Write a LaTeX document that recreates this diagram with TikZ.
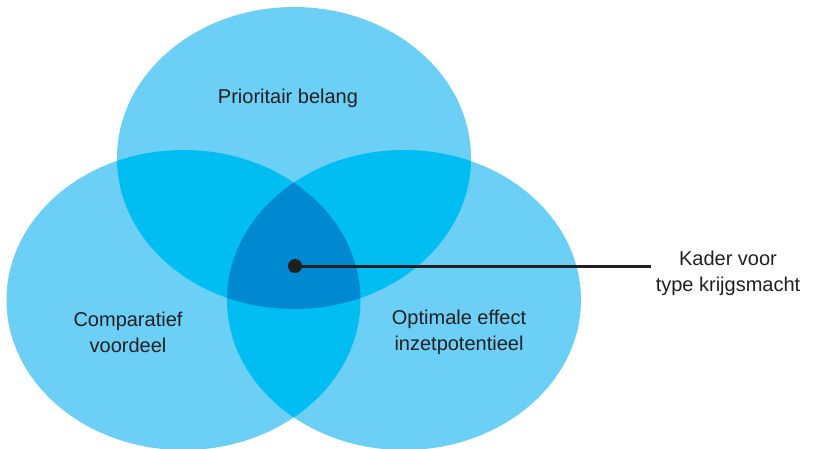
\documentclass[tikz,border=0pt]{standalone}
\usepackage{fontspec}
\setmainfont{Liberation Sans}
\definecolor{lightblue}{HTML}{6BCFF6}
\definecolor{midblue}{HTML}{00BDF2}
\definecolor{darkblue}{HTML}{0089D0}
\definecolor{txt}{HTML}{231F20}
\tikzset{
  lbl/.style={text=txt, font=\fontsize{20}{26}\selectfont, align=center},
}
\begin{document}
\begin{tikzpicture}[x=1pt,y=-1pt]
\useasboundingbox (0,0) rectangle (813,448);
\def\topE{(294,158) ellipse [x radius=177pt, y radius=151pt]}
\def\leftE{(183.5,300) ellipse [x radius=177pt, y radius=150pt]}
\def\rightE{(404,300) ellipse [x radius=177pt, y radius=150pt]}
\begin{scope}
\clip (0,0) rectangle (813,448);
\fill[lightblue] \topE;
\fill[lightblue] \leftE;
\fill[lightblue] \rightE;
\begin{scope}\clip \topE; \fill[midblue] \leftE; \fill[midblue] \rightE;\end{scope}
\begin{scope}\clip \leftE; \fill[midblue] \rightE;\end{scope}
\begin{scope}\clip \topE; \clip \leftE; \fill[darkblue] \rightE;\end{scope}
\end{scope}
\node[lbl] (top) at (288,98) {Prioritair belang};
\node[lbl] (left) at (128,332) {Comparatief\\voordeel};
\node[lbl] (right) at (459,332) {Optimale effect\\inzetpotentieel};
\node[lbl] (kader) at (728,273) {Kader voor\\type krijgsmacht};
\node[circle, fill=txt, inner sep=0pt, minimum size=14pt] (dot) at (295,266) {};
\coordinate (lineend) at (651,266);
\draw[txt, line width=3pt] (dot.center) -- (lineend);
\end{tikzpicture}
\end{document}
